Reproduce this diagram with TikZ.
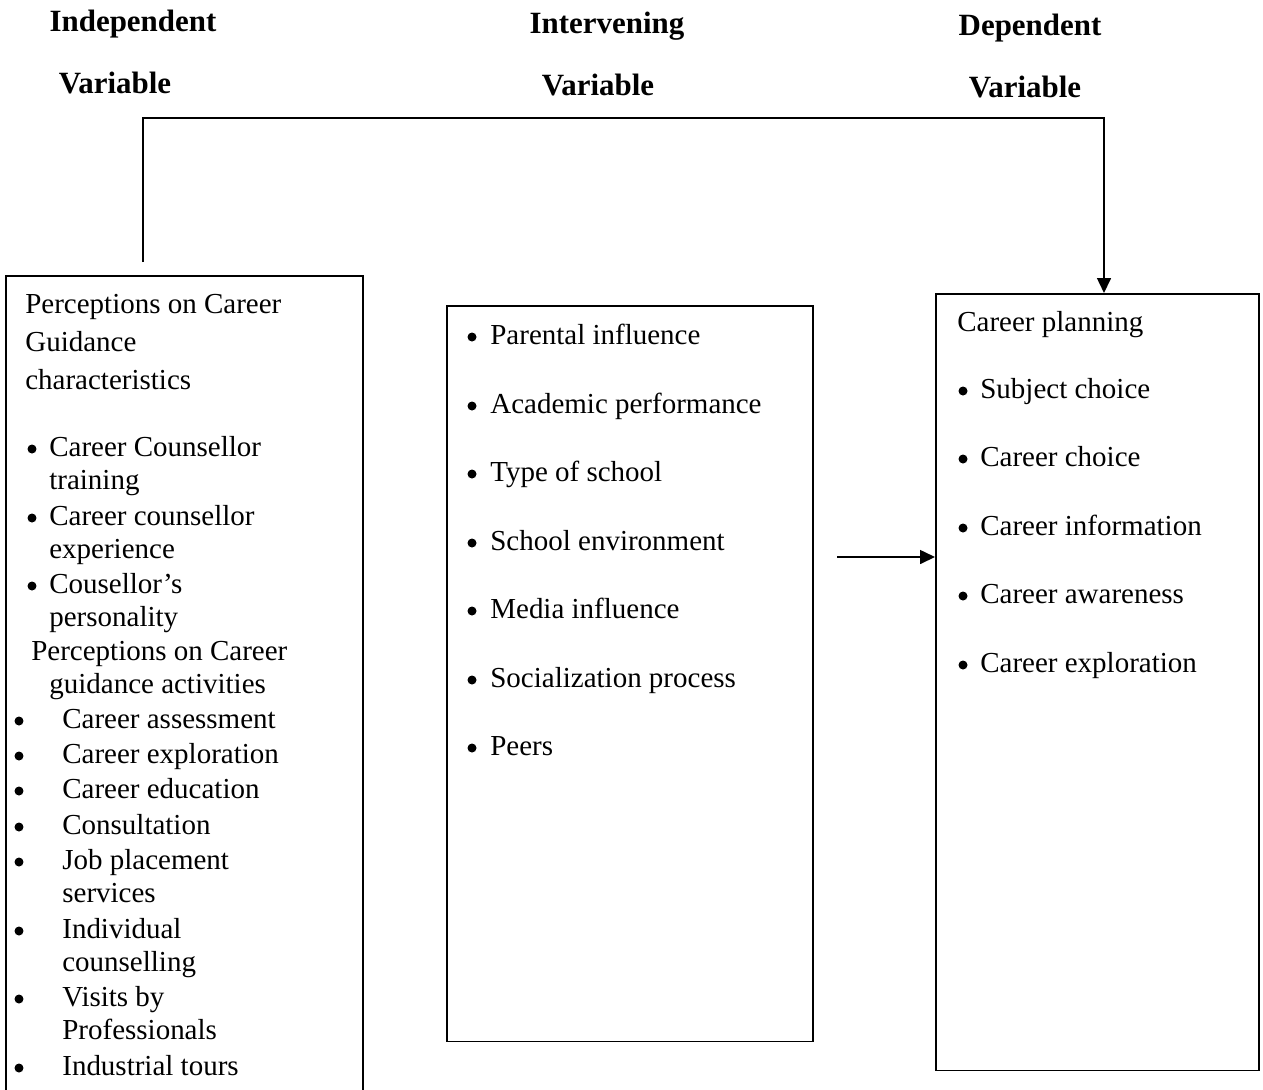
\documentclass[tikz,border=0pt]{standalone}
\usepackage{fontspec}
\setmainfont{Liberation Serif}
\usetikzlibrary{arrows.meta}
\begin{document}
\begin{tikzpicture}[x=0.02cm,y=-0.02cm,
  box/.style={draw,line width=0.9pt,inner sep=0,anchor=north west},
  txt/.style={anchor=base west,inner sep=0,font=\fontsize{16.5}{20}\selectfont},
  bul/.style={circle,fill,inner sep=0,minimum size=0.18cm},
  hdr/.style={anchor=base,inner sep=0,font=\fontsize{17.6}{21}\selectfont\bfseries},
  conn/.style={line width=0.9pt,-{Triangle[length=0.3cm,width=0.28cm]}}]
\useasboundingbox (0,0) rectangle (1263,1089);
\fill[white] (0,0) rectangle (1263,1089);
% headers
\node[hdr] (h1a) at (133,31) {Independent};
\node[hdr] (h1b) at (115,93) {Variable};
\node[hdr] (h2a) at (607,33) {Intervening};
\node[hdr] (h2b) at (598,95) {Variable};
\node[hdr] (h3a) at (1030,35) {Dependent};
\node[hdr] (h3b) at (1025,97) {Variable};
% boxes
\node[box,minimum width=7.14cm,minimum height=16.6cm] (lbox) at (5,275) {};
\node[box,minimum width=7.32cm,minimum height=14.72cm] (mbox) at (446,305) {};
\node[box,minimum width=6.46cm,minimum height=15.54cm] (rbox) at (935,293) {};
% left box text
\node[txt] (l1) at (25,313) {Perceptions on Career};
\node[txt] (l2) at (25,351) {Guidance};
\node[txt] (l3) at (25,389) {characteristics};
\foreach \y/\t [count=\i] in {456/Career Counsellor,489/training,525/Career counsellor,558/experience,593/Cousellor’s,626/personality}
  \node[txt] (la\i) at (49,\y) {\t};
\foreach \y [count=\i] in {456,525,593}
  \node[bul] (lab\i) at (32,\y-7) {};
\node[txt] (l4) at (31,660) {Perceptions on Career};
\node[txt] (l5) at (49,693) {guidance activities};
\foreach \y/\t [count=\i] in {728/Career assessment,763/Career exploration,798/Career education,834/Consultation,869/Job placement,902/services,938/Individual,971/counselling,1006/Visits by,1039/Professionals,1075/Industrial tours}
  \node[txt] (lb\i) at (62,\y) {\t};
\foreach \y [count=\i] in {728,763,798,834,869,938,1006,1075}
  \node[bul] (lbb\i) at (19,\y-7) {};
% middle box text
\foreach \y/\t [count=\i] in {344/Parental influence,413/Academic performance,481/Type of school,550/School environment,618/Media influence,687/Socialization process,755/Peers}{
  \node[bul] (mb\i) at (472,\y-7) {};
  \node[txt] (m\i) at (490,\y) {\t};}
% right box text
\node[txt] (r0) at (957,331) {Career planning};
\foreach \y/\t [count=\i] in {398/Subject choice,466/Career choice,535/Career information,603/Career awareness,672/Career exploration}{
  \node[bul] (rb\i) at (963,\y-7) {};
  \node[txt] (r\i) at (980,\y) {\t};}
% connectors
\coordinate (s1) at (143,262);
\coordinate (t1) at (1104,118);
\draw[conn] (s1) |- (t1) -- (t1 |- rbox.north);
\coordinate (s2) at (837,557);
\draw[conn] (s2) -- (s2 -| rbox.west);
\end{tikzpicture}
\end{document}
